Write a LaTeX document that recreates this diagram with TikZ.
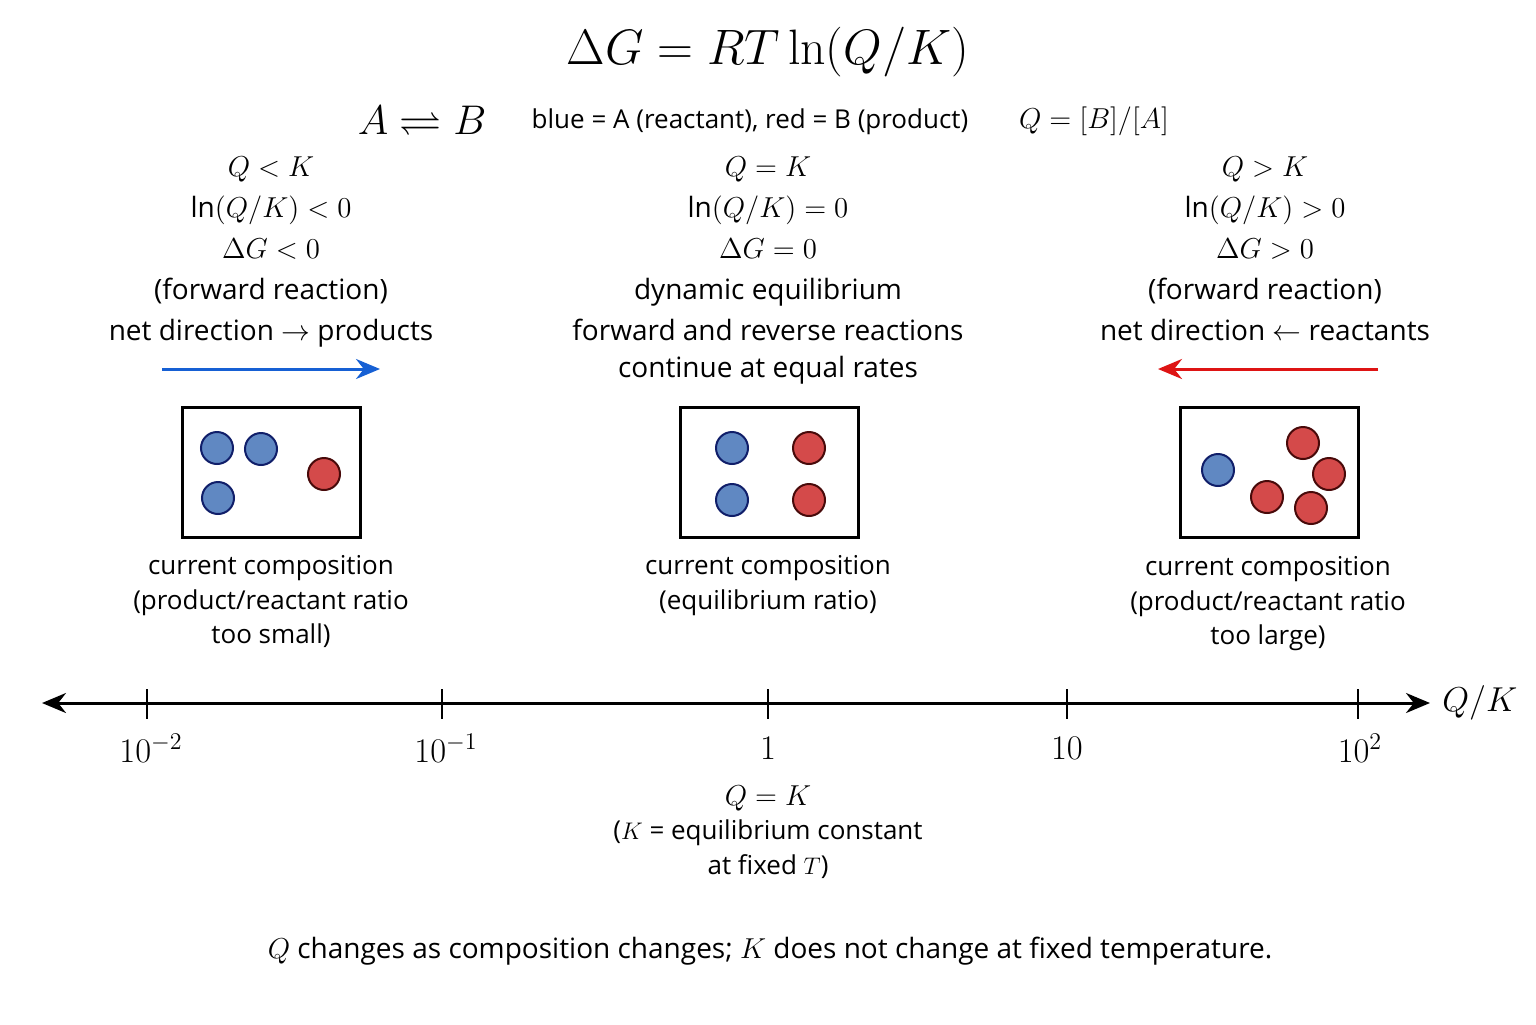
\documentclass[tikz,border=0pt]{standalone}
\usepackage{amsmath, amssymb}
\usepackage[no-math]{fontspec}
\setmainfont{Open Sans}
\usetikzlibrary{arrows.meta, positioning, calc}
\definecolor{molblue}{RGB}{96, 136, 194}
\definecolor{molnavy}{RGB}{16, 30, 105}
\definecolor{molred}{RGB}{212, 74, 74}
\definecolor{molmaroon}{RGB}{72, 10, 10}
\definecolor{fwdblue}{RGB}{22, 96, 212}
\definecolor{revred}{RGB}{222, 20, 20}

\tikzset{
  cond/.style={align=center, anchor=north, inner sep=0pt, font=\fontsize{14}{20.5}\selectfont},
  capt/.style={align=center, anchor=north, inner sep=0pt, font=\fontsize{13}{17.3}\selectfont},
  compbox/.style={draw=black, line width=1.5pt, minimum width=89pt, minimum height=65pt},
  molA/.style={circle, draw=molnavy, fill=molblue, line width=1pt, minimum size=16pt, inner sep=0pt},
  molB/.style={circle, draw=molmaroon, fill=molred, line width=1pt, minimum size=16pt, inner sep=0pt},
  axisline/.style={line width=1.5pt, {Stealth[length=12pt,width=10pt]}-{Stealth[length=12pt,width=10pt]}},
  tickmark/.style={line width=1.2pt},
  ticklbl/.style={font=\fontsize{18}{20}\selectfont, inner sep=0pt}
}

\begin{document}
\begin{tikzpicture}[x=0.5pt, y=-0.5pt]
  \useasboundingbox (0,0) rectangle (1536,1024);

  % title and reaction line
  \node (title) at (768,52) {\fontsize{30}{36}\selectfont $\Delta G = RT\ln(Q/K)$};
  \node (rxn) at (422,121) {\fontsize{21}{24}\selectfont $A \rightleftharpoons B$};
  \node (legend) at (750,122) {\fontsize{13}{15}\selectfont blue = A (reactant), red = B (product)};
  \node (qdef) at (1094,121) {\fontsize{15}{18}\selectfont $Q = [B]/[A]$};

  % the three cases
  \node[cond] (condL) at (271,156) {$Q < K$\\ ln$(Q/K) < 0$\\ $\Delta G < 0$\\ (forward reaction)\\ net direction $\rightarrow$ products};
  \node[cond] (condM) at (768,156) {$Q = K$\\ ln$(Q/K) = 0$\\ $\Delta G = 0$\\ dynamic equilibrium\\ forward and reverse reactions\\[-2pt] continue at equal rates};
  \node[cond] (condR) at (1265,156) {$Q > K$\\ ln$(Q/K) > 0$\\ $\Delta G > 0$\\ (forward reaction)\\ net direction $\leftarrow$ reactants};

  \coordinate (fwdS) at (162,369);
  \coordinate (fwdE) at (380,369);
  \coordinate (revS) at (1378,369);
  \coordinate (revE) at (1158,369);
  \draw[fwdblue, line width=1.5pt, -{Stealth[length=12pt,width=10pt]}] (fwdS) -- (fwdE);
  \draw[revred, line width=1.5pt, -{Stealth[length=12pt,width=10pt]}] (revS) -- (revE);

  % composition boxes
  \node[compbox] (boxL) at (271,472) {};
  \node[compbox] (boxM) at (769,472) {};
  \node[compbox] (boxR) at (1269,472) {};

  \node[molA] (l1) at (217,448) {};
  \node[molA] (l2) at (261,449) {};
  \node[molA] (l3) at (218,498) {};
  \node[molB] (l4) at (324,474) {};

  \node[molA] (m1) at (732,448) {};
  \node[molA] (m2) at (732,500) {};
  \node[molB] (m3) at (809,448) {};
  \node[molB] (m4) at (809,500) {};

  \node[molA] (r1) at (1218,470) {};
  \node[molB] (r2) at (1303,443) {};
  \node[molB] (r3) at (1329,474) {};
  \node[molB] (r4) at (1267,497) {};
  \node[molB] (r5) at (1311,508) {};

  \node[capt] (capL) at (271,555) {current composition\\ (product/reactant ratio\\ too small)};
  \node[capt] (capM) at (768,555) {current composition\\ (equilibrium ratio)};
  \node[capt] (capR) at (1268,556) {current composition\\ (product/reactant ratio\\ too large)};

  % Q/K axis
  \coordinate (axL) at (42,703);
  \coordinate (axR) at (1430,703);
  \draw[axisline] (axL) -- (axR);
  \foreach \x/\dx/\lab in {147/4/10^{-2}, 442/4/10^{-1}, 768/0/1, 1067/0/10, 1358/2/10^{2}} {
    \draw[tickmark] (\x,689) -- (\x,719);
    \node[ticklbl] at (\x+\dx,748) {$\lab$};
  }
  \node[ticklbl, right=6pt of axR] (axname) {$Q/K$};

  \node[capt] (eqnote) at (768,785) {{\fontsize{14}{17}\selectfont$Q = K$}\\ ($K$ = equilibrium constant\\ at fixed $T$)};

  \node (foot) at (770,951) {\fontsize{14}{17}\selectfont $Q$ changes as composition changes; $K$ does not change at fixed temperature.};
\end{tikzpicture}
\end{document}
